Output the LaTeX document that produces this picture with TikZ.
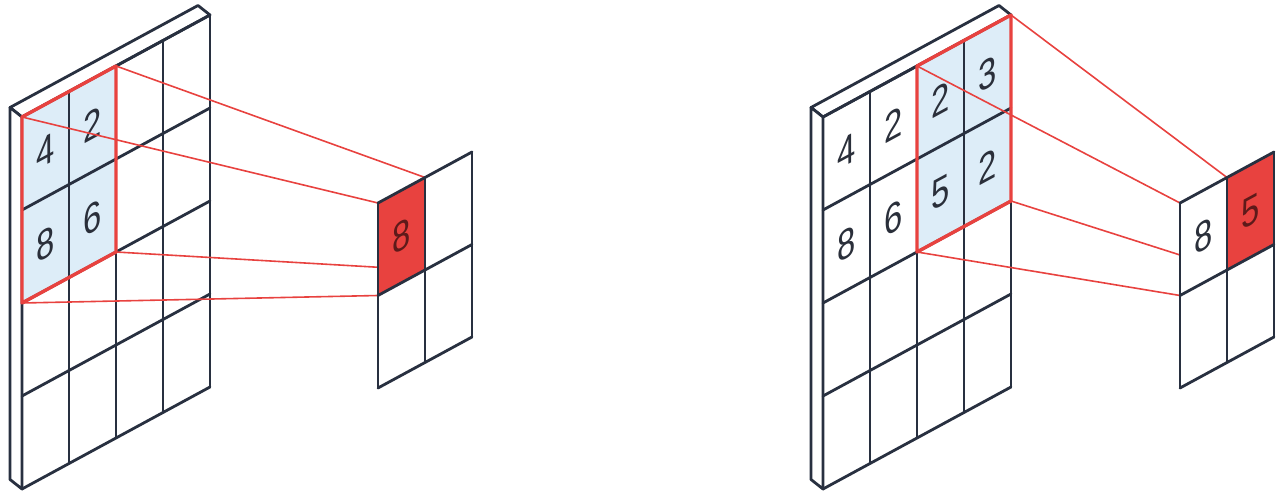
\documentclass[tikz,border=0pt]{standalone}
\usepackage{fontspec}
\setmainfont{Liberation Sans}
\usetikzlibrary{calc}
\definecolor{navy}{HTML}{283040}
\definecolor{hl}{HTML}{DDEDF8}
\definecolor{rd}{HTML}{E8423F}
\definecolor{dk}{HTML}{2A2F3A}
\definecolor{dkred}{HTML}{5E1A1A}
\newcommand\celldigit[5]{\node[digit,#5,shift={(#2,#3)},yslant=0.543,xscale=0.78] (#1) at (0,0) {#4};}
\begin{document}
\begin{tikzpicture}[x=1pt,y=-1pt,
  gridline/.style={draw=navy,line width=2.8pt,line join=round,line cap=round},
  slabface/.style={fill=white,draw=navy,line width=2.8pt,line join=round},
  hlfill/.style={fill=hl},
  hlborder/.style={draw=rd,line width=3.4pt,line join=round,line cap=round},
  link/.style={draw=rd,line width=1.6pt},
  redcell/.style={fill=rd},
  whitecell/.style={fill=white},
  digit/.style={inner sep=0pt,text=dk,font=\fontsize{42}{42}\selectfont,transform shape},
  reddigit/.style={text=dkred},
]
\useasboundingbox (0,0) rectangle (1282,497);
% coordinates
\foreach \i in {0,...,4}{\foreach \j in {0,...,4}{
  \coordinate (L-\i-\j) at ({22+47*\i},{117+93*\j-25.5*\i});
  \coordinate (R-\i-\j) at ({823+47*\i},{117+93*\j-25.5*\i});
}}
\foreach \i in {0,...,2}{\foreach \j in {0,...,2}{
  \coordinate (LO-\i-\j) at ({378+47*\i},{203+92.5*\j-25.5*\i});
  \coordinate (RO-\i-\j) at ({1180+47*\i},{203+92.5*\j-25.5*\i});
}}
% ---------- input slabs ----------
\foreach \g in {L,R}{
  \draw[slabface] (\g-0-0) -- ([shift={(-12,-9.5)}]\g-0-0) -- ([shift={(-12,-9.5)}]\g-4-0) -- (\g-4-0) -- cycle;
  \draw[slabface] (\g-0-0) -- ([shift={(-12,-9.5)}]\g-0-0) -- ([shift={(-12,-9.5)}]\g-0-4) -- (\g-0-4) -- cycle;
}
% highlight fills
\fill[hlfill] (L-0-0) -- (L-2-0) -- (L-2-2) -- (L-0-2) -- cycle;
\fill[hlfill] (R-2-0) -- (R-4-0) -- (R-4-2) -- (R-2-2) -- cycle;
% grids
\foreach \g in {L,R}{
  \foreach \i in {0,...,4} \draw[gridline] (\g-\i-0) -- (\g-\i-4);
  \foreach \j in {0,...,4} \draw[gridline] (\g-0-\j) -- (\g-4-\j);
}
% highlight borders
\draw[hlborder] (L-0-0) -- (L-2-0) -- (L-2-2) -- (L-0-2) -- cycle;
\draw[hlborder] (R-2-0) -- (R-4-0) -- (R-4-2) -- (R-2-2) -- cycle;
% input digits
\celldigit{l4}{45.5}{150.75}{4}{}
\celldigit{l2}{92.5}{125}{2}{}
\celldigit{l8}{45.5}{243.75}{8}{}
\celldigit{l6}{92.5}{218}{6}{}
\celldigit{r4}{846.5}{150.75}{4}{}
\celldigit{r2}{893.5}{125}{2}{}
\celldigit{r2b}{940.5}{99.75}{2}{}
\celldigit{r3}{987.5}{74}{3}{}
\celldigit{r8}{846.5}{243.75}{8}{}
\celldigit{r6}{893.5}{218}{6}{}
\celldigit{r5}{940.5}{192.75}{5}{}
\celldigit{r2c}{987.5}{167}{2}{}
% links
\draw[link] (L-0-0) -- (LO-0-0);
\draw[link] (L-2-0) -- (LO-1-0);
\draw[link] (L-2-2) -- (LO-1-1);
\draw[link] (L-0-2) -- (LO-0-1);
\draw[link] (R-2-0) -- (RO-0-0);
\draw[link] (R-4-0) -- (RO-1-0);
\draw[link] (R-4-2) -- (RO-1-1);
\draw[link] (R-2-2) -- (RO-0-1);
% output grids
\foreach \g in {LO,RO}{
  \fill[whitecell] (\g-0-0) -- (\g-2-0) -- (\g-2-2) -- (\g-0-2) -- cycle;
}
\fill[redcell] (LO-0-0) -- (LO-1-0) -- (LO-1-1) -- (LO-0-1) -- cycle;
\fill[redcell] (RO-1-0) -- (RO-2-0) -- (RO-2-1) -- (RO-1-1) -- cycle;
\foreach \g in {LO,RO}{
  \foreach \i in {0,...,2} \draw[gridline] (\g-\i-0) -- (\g-\i-2);
  \foreach \j in {0,...,2} \draw[gridline] (\g-0-\j) -- (\g-2-\j);
}
\celldigit{lo8}{401.5}{236.5}{8}{reddigit}
\celldigit{ro8}{1203.5}{236.5}{8}{}
\celldigit{ro5}{1250.5}{211}{5}{reddigit}
\end{tikzpicture}
\end{document}
